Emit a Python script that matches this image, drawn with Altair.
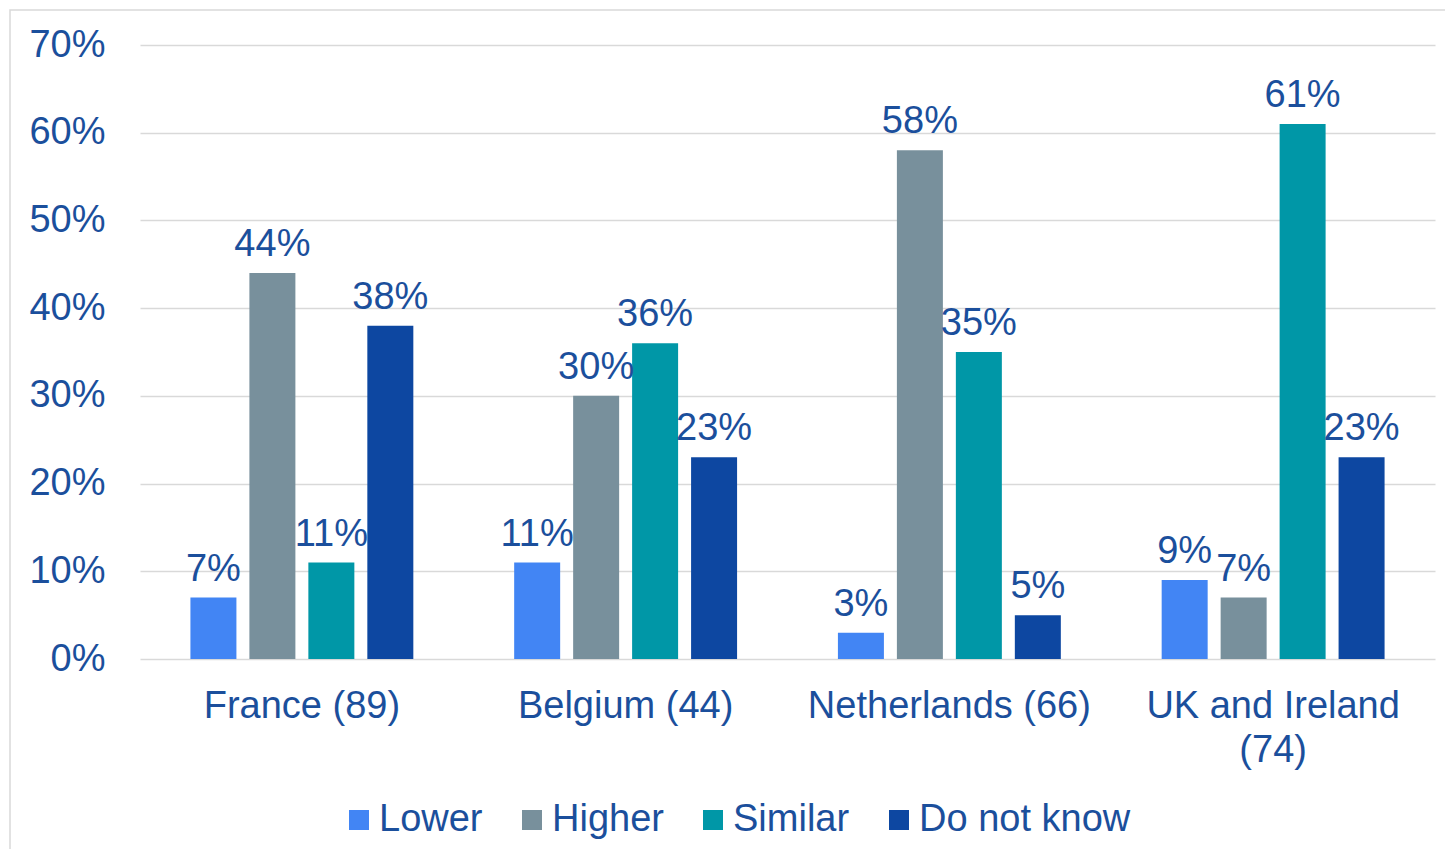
import altair as alt
import pandas as pd

countries = ["France (89)", "Belgium (44)", "Netherlands (66)", "UK and Ireland (74)"]
series = ["Lower", "Higher", "Similar", "Do not know"]
lower = [7, 11, 3, 9]
higher = [44, 30, 58, 7]
similar = [11, 36, 35, 61]
dont_know = [38, 23, 5, 23]
colors = ["#4285F4", "#78909C", "#0097A7", "#0D47A1"]
y_ticks = [0, 0.1, 0.2, 0.3, 0.4, 0.5, 0.6, 0.7]

TEXT = "#1B4F9C"
FONT = "Liberation Sans"
FS = 38

rows = []
for s, vals in zip(series, [lower, higher, similar, dont_know]):
    for c, v in zip(countries, vals):
        rows.append({"country": c, "series": s, "value": v / 100})
df = pd.DataFrame(rows)

base = alt.Chart(df).encode(
    x=alt.X(
        "country:N",
        sort=countries,
        scale=alt.Scale(paddingInner=0, paddingOuter=0),
        axis=alt.Axis(
            title=None, labelAngle=0, domain=False, ticks=False,
            labelFontSize=FS, labelFont=FONT, labelColor=TEXT,
            labelPadding=28, labelLineHeight=44, labelLimit=0,
            labelExpr="datum.label == 'UK and Ireland (74)' ? ['UK and Ireland', '(74)'] : datum.label",
            grid=False,
        ),
    ),
    xOffset=alt.XOffset(
        "series:N", sort=series,
        scale=alt.Scale(paddingInner=0.22, paddingOuter=0.855),
    ),
    y=alt.Y(
        "value:Q",
        scale=alt.Scale(domain=[0, 0.7], nice=False),
        axis=alt.Axis(
            title=None, values=y_ticks, format=".0%", domain=False, ticks=False,
            labelFontSize=FS, labelFont=FONT, labelColor=TEXT, labelPadding=35,
            gridColor="#d9d9d9", gridWidth=1.5,
        ),
    ),
)

bars = base.mark_bar().encode(
    color=alt.Color(
        "series:N", sort=series,
        scale=alt.Scale(domain=series, range=colors),
        legend=alt.Legend(
            orient="none", legendX=200, legendY=756, direction="horizontal",
            title=None, symbolType="square", symbolSize=400, symbolStrokeWidth=0,
            labelFontSize=FS, labelFont=FONT, labelColor=TEXT, labelLimit=0,
            columnPadding=30, labelOffset=1, symbolOpacity=1,
        ),
    )
)

labels = base.mark_text(
    baseline="alphabetic", dy=-17, fontSize=FS, font=FONT, color=TEXT
).encode(text=alt.Text("value:Q", format=".0%"))

border_df = pd.DataFrame({"k": [0]})
border = alt.Chart(border_df).mark_rect(
    fill=None, stroke="#d9d9d9", strokeWidth=1.5, clip=False
).encode(
    x=alt.value(-130), x2=alt.value(1400), y=alt.value(-35), y2=alt.value(900)
)

chart = alt.layer(border, bars, labels).properties(
    width=1295, height=614,
    padding={"left": 132, "top": 37, "right": 10, "bottom": 190},
    autosize=alt.AutoSizeParams(type="none"),
).configure_view(stroke=None)

chart.save("out.html", embed_options={"renderer": "svg", "actions": False})
